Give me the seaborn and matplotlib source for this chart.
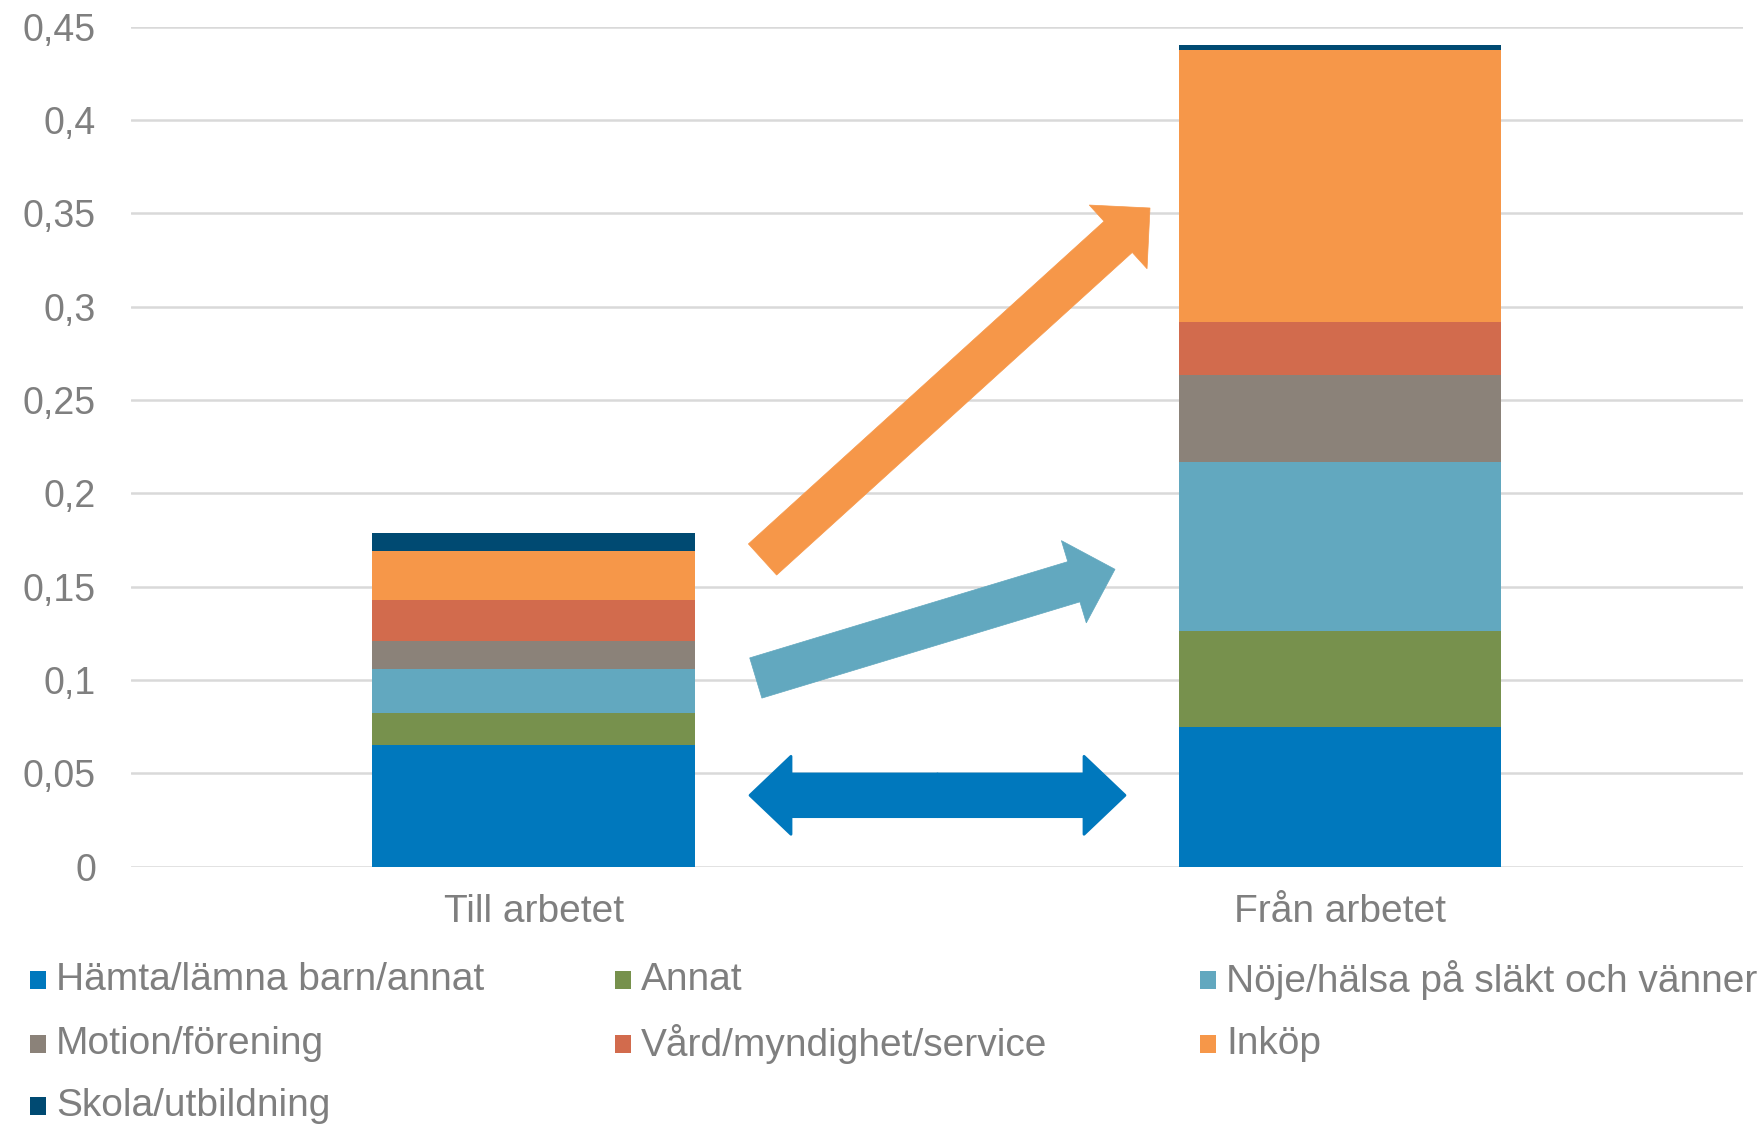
import numpy as np
import pandas as pd
import seaborn as sns
import matplotlib
matplotlib.use("Agg")
from matplotlib import pyplot as plt
from matplotlib.patches import FancyArrow, Rectangle
from matplotlib.ticker import FuncFormatter, MultipleLocator

# data
kategorier = ["Till arbetet", "Från arbetet"]
serier = ["Hämta/lämna barn/annat", "Annat", "Nöje/hälsa på släkt och vänner",
          "Motion/förening", "Vård/myndighet/service", "Inköp", "Skola/utbildning"]
till_arbetet = [0.0650, 0.0172, 0.0235, 0.0152, 0.0221, 0.0263, 0.0093]
fran_arbetet = [0.0748, 0.0515, 0.0903, 0.0468, 0.0282, 0.1457, 0.0029]
farger = ["#0078BD", "#77914D", "#62A8BF", "#8B8279", "#D26B4D", "#F69749", "#004A72"]

grey = "#7F7F7F"
W, H = 1765, 1125

sns.set_style("white")
plt.rcParams["font.family"] = ["Liberation Sans", "DejaVu Sans"]

fig = plt.figure(figsize=(W / 100, H / 100), dpi=100)
ax = fig.add_axes([130.6 / W, 1 - 866.7 / H, (1743 - 130.6) / W, (866.7 - 26.7) / H])

# stacked bars: draw cumulative totals from the top down
df = pd.DataFrame({"kategori": np.repeat(kategorier, len(serier)),
                   "serie": serier * len(kategorier),
                   "andel": till_arbetet + fran_arbetet})
df["kum"] = df.groupby("kategori", sort=False)["andel"].cumsum()
for s, c in reversed(list(zip(serier, farger))):
    d = df[df["serie"] == s]
    sns.barplot(data=d, x="kategori", y="kum", order=kategorier, color=c,
                saturation=1, width=0.4, ax=ax, zorder=3, linewidth=0, errorbar=None)

ax.set_xlim(-0.5, 1.5)
ax.set_ylim(0, 0.45)
ax.yaxis.set_major_locator(MultipleLocator(0.05))
ax.yaxis.set_major_formatter(FuncFormatter(lambda v, p: f"{round(v, 2):g}".replace(".", ",")))
ax.grid(axis="y", color="#D9D9D9", linewidth=1.8, zorder=0)
ax.set_axisbelow(True)
ax.set_xlabel("")
ax.set_ylabel("")
sns.despine(ax=ax, left=True, bottom=True)
ax.tick_params(axis="y", length=0, pad=25, labelsize=27, labelcolor=grey)
ax.tick_params(axis="x", length=0, pad=20, labelsize=28, labelcolor=grey)

# legend, laid out row by row in three columns
kol_x = [30, 615, 1200]
rad_y = [980, 1044, 1106]
for i, (s, c) in enumerate(zip(serier, farger)):
    x = kol_x[i % 3]
    y = rad_y[i // 3]
    fig.patches.append(Rectangle((x / W, 1 - (y + 9) / H), 16 / W, 18 / H,
                                 facecolor=c, edgecolor="none", transform=fig.transFigure))
    fig.text((x + 26) / W, 1 - y / H, s, fontsize=28, color=grey, va="center", ha="left")

# arrows drawn in pixel space on a full-figure overlay
ov = fig.add_axes([0, 0, 1, 1], zorder=5)
ov.set_xlim(0, W)
ov.set_ylim(H, 0)
ov.axis("off")
ov.patch.set_alpha(0)

def pil(x0, y0, x1, y1, c, w=42, hw=86, hl=43):
    ov.add_patch(FancyArrow(x0, y0, x1 - x0, y1 - y0, width=w, head_width=hw,
                            head_length=hl, length_includes_head=True,
                            facecolor=c, edgecolor=c, linewidth=0.5))

pil(762.5, 559.5, 1150, 208, farger[5])
pil(755.8, 678, 1115, 569.3, farger[2])
for end in (750, 1125):
    ov.add_patch(FancyArrow(937.5, 795.3, end - 937.5, 0, width=42.7, head_width=78,
                            head_length=41, length_includes_head=True,
                            facecolor=farger[0], edgecolor=farger[0],
                            linewidth=2, joinstyle="round"))

fig.savefig("out.png", dpi=100)
